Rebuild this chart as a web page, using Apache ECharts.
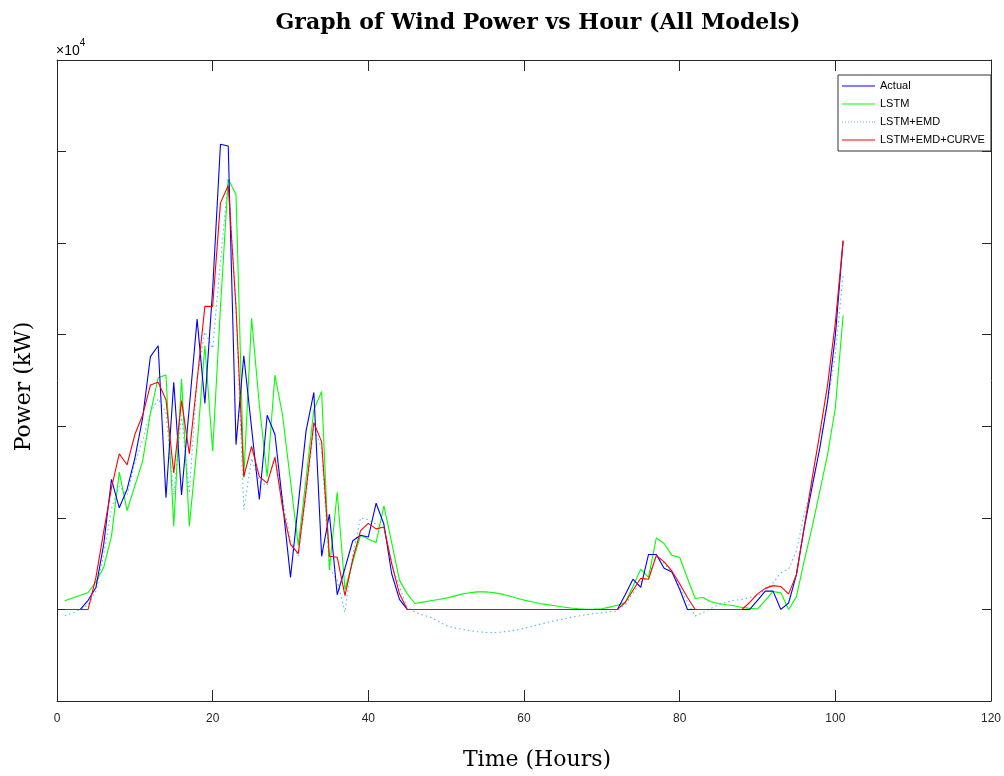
<!DOCTYPE html>
<html>
<head>
<meta charset="utf-8">
<script src="https://cdn.jsdelivr.net/npm/echarts@6/dist/echarts.min.js"></script>
<style>
html,body{margin:0;padding:0;background:#fff;}
#chart{width:1004px;height:776px;}
</style>
</head>
<body>
<div id="chart"></div>
<script>
var hours = [1,2,3,4,5,6,7,8,9,10,11,12,13,14,15,16,17,18,19,20,21,22,23,24,25,26,27,28,29,30,31,32,33,34,35,36,37,38,39,40,41,42,43,44,45,46,47,48,49,50,51,52,53,54,55,56,57,58,59,60,61,62,63,64,65,66,67,68,69,70,71,72,73,74,75,76,77,78,79,80,81,82,83,84,85,86,87,88,89,90,91,92,93,94,95,96,97,98,99,100,101];

var actual = [0,0,0,1000,2400,7100,14200,11100,13100,16500,20900,27600,28800,12200,24800,12500,22100,31700,22500,35000,50800,50600,18000,27700,19800,12000,21200,19100,11500,3500,11500,19500,23700,5800,10400,1600,4500,7500,8100,7900,11600,9300,3900,1100,0,0,0,0,0,0,0,0,0,0,0,0,0,0,0,0,0,0,0,0,0,0,0,0,0,0,0,0,1600,3300,2400,6000,6000,4500,4100,2200,0,0,0,0,0,0,0,0,0,1000,2000,2000,0,700,3800,8900,13300,17600,22700,29900,40200];

var lstm = [950,1250,1550,1850,3000,4600,8000,15000,10800,13500,16200,21400,25300,25600,9100,25200,9100,17900,28800,17300,33000,47000,45300,14400,31800,22300,14500,25600,21100,14000,7000,14300,21800,23800,4300,12800,2200,5200,8100,7700,7300,11300,7300,3200,1700,650,800,940,1080,1230,1450,1670,1820,1920,1920,1850,1700,1490,1250,1020,830,650,520,400,270,150,70,20,30,70,250,450,760,2500,4400,3500,7800,7200,5900,5700,3400,1200,1300,830,650,510,400,220,120,40,1000,1960,1810,0,1400,5300,8900,12900,16900,22000,32100];

var lstmEmd = [-700,-400,0,500,2000,6000,11000,13500,12500,16000,18500,21500,23000,21500,12500,21200,12700,25200,30300,28500,38000,47000,33000,10900,16500,14000,13500,16800,12000,7500,5800,12500,20000,17500,4500,3200,-300,6000,10000,9800,9300,9300,5000,2500,200,-300,-600,-870,-1300,-1770,-2000,-2170,-2300,-2430,-2500,-2540,-2480,-2390,-2250,-2070,-1850,-1630,-1430,-1230,-1050,-870,-720,-580,-460,-360,-250,-150,500,1800,3000,3500,5800,5000,4000,2500,800,-730,-330,100,500,800,1000,1100,1300,1500,2200,2900,4000,4400,6400,10400,13600,17600,22700,27800,36500];

var lstmEmdCurve = [0,0,0,0,3500,8500,13300,17000,15800,19100,21200,24500,24800,22900,14900,22800,17000,25000,33100,33100,44400,46300,33000,14500,17800,14500,13800,16600,11000,7100,6100,13000,20400,18300,5800,5700,1500,5500,8600,9400,8800,9000,5000,1700,0,0,0,0,0,0,0,0,0,0,0,0,0,0,0,0,0,0,0,0,0,0,0,0,0,0,0,0,760,2100,3400,3300,5900,5200,4200,2800,1300,0,0,0,0,0,0,0,760,1700,2300,2600,2500,1700,3800,9000,14200,19200,24500,31300,40300];

var xTicks = [0,20,40,60,80,100,120];
var seriesNames = ['Actual','LSTM','LSTM+EMD','LSTM+EMD+CURVE'];

function pairs(vals){
  var out = [];
  for (var i = 0; i < hours.length; i++) out.push([hours[i], vals[i]]);
  return out;
}

var solidIcon = 'path://M0,0h33v1h-33z';
var dotIcon = 'path://M0,0h1v1h-1zM3,0h1v1h-1zM6,0h1v1h-1zM9,0h1v1h-1zM12,0h1v1h-1zM15,0h1v1h-1zM18,0h1v1h-1zM21,0h1v1h-1zM24,0h1v1h-1zM27,0h1v1h-1zM30,0h1v1h-1zM32,0h1v1h-1z';

var axisColor = '#262626';
var chart = echarts.init(document.getElementById('chart'));
chart.setOption({
  animation: false,
  backgroundColor: '#fff',
  title: {
    text: 'Graph of Wind Power vs Hour (All Models)',
    left: 533, top: 7, textAlign: 'center',
    textStyle: {fontFamily: 'DejaVu Serif', fontWeight: 'bold', fontSize: 22, color: '#000'}
  },
  grid: {left: 57, right: 9, top: 60, bottom: 72, containLabel: false},
  legend: {
    orient: 'vertical', left: 838, top: 75,
    data: [
      {name: seriesNames[0], icon: solidIcon},
      {name: seriesNames[1], icon: solidIcon},
      {name: seriesNames[2], icon: dotIcon},
      {name: seriesNames[3], icon: solidIcon}
    ],
    backgroundColor: '#fff', borderColor: '#333', borderWidth: 1,
    padding: [4, 6, 4, 4], itemGap: 4, itemWidth: 33, itemHeight: 1.2,
    borderRadius: 0,
    textStyle: {fontFamily: 'Liberation Sans', fontSize: 11, color: '#000', lineHeight: 14, height: 14}
  },
  xAxis: [{
    type: 'value', min: 0, max: 120, interval: 20, position: 'bottom',
    name: 'Time (Hours)', nameLocation: 'middle', nameGap: 48,
    nameTextStyle: {fontFamily: 'DejaVu Serif', fontSize: 22, color: '#000', padding: [0,0,0,26]},
    axisLine: {show: true, onZero: false, lineStyle: {color: axisColor, width: 1}},
    axisTick: {show: true, inside: true, length: 11, lineStyle: {color: axisColor}},
    axisLabel: {show: true, margin: 12, color: axisColor, fontFamily: 'Liberation Sans', fontSize: 12,
      showMinLabel: true, showMaxLabel: true,
      formatter: function(v){ return xTicks.indexOf(v) >= 0 ? String(v) : ''; }},
    splitLine: {show: false}
  },{
    type: 'value', min: 0, max: 120, interval: 20, position: 'top',
    axisLine: {show: true, onZero: false, lineStyle: {color: axisColor, width: 1}},
    axisTick: {show: true, inside: true, length: 11, lineStyle: {color: axisColor}},
    axisLabel: {show: false}, splitLine: {show: false}
  }],
  yAxis: [{
    type: 'value', min: -10000, max: 60000, interval: 10000, position: 'left',
    name: 'Power (kW)', nameLocation: 'middle', nameGap: 22, nameRotate: 90,
    nameTextStyle: {fontFamily: 'DejaVu Serif', fontSize: 22, color: '#000', padding: [0,12,0,0]},
    axisLine: {show: true, onZero: false, lineStyle: {color: axisColor, width: 1}},
    axisTick: {show: true, inside: true, length: 9, lineStyle: {color: axisColor}},
    axisLabel: {show: false}, splitLine: {show: false}
  },{
    type: 'value', min: -10000, max: 60000, interval: 10000, position: 'right',
    axisLine: {show: true, onZero: false, lineStyle: {color: axisColor, width: 1}},
    axisTick: {show: true, inside: true, length: 9, lineStyle: {color: axisColor}},
    axisLabel: {show: false}, splitLine: {show: false}
  }],
  graphic: [{
    type: 'text', left: 56, top: 38,
    style: {
      text: '{a|×10}{b|4}',
      rich: {
        a: {fontFamily: 'Liberation Sans', fontSize: 14, color: '#444', verticalAlign: 'bottom', lineHeight: 20},
        b: {fontFamily: 'Liberation Sans', fontSize: 10, color: '#444', verticalAlign: 'top', lineHeight: 20}
      }
    }
  }],
  series: [
    {name: seriesNames[0], type: 'line', data: pairs(actual), symbol: 'none', z: 4,
     lineStyle: {color: '#0000ff', width: 1.1}, itemStyle: {color: '#0000ff'}},
    {name: seriesNames[1], type: 'line', data: pairs(lstm), symbol: 'none', z: 3,
     lineStyle: {color: '#00ff00', width: 1.1}, itemStyle: {color: '#00ff00'}},
    {name: seriesNames[2], type: 'line', data: pairs(lstmEmd), symbol: 'none', z: 2,
     lineStyle: {color: '#4DBEEE', width: 1.1, type: [1.5, 3]}, itemStyle: {color: '#4DBEEE'}},
    {name: seriesNames[3], type: 'line', data: pairs(lstmEmdCurve), symbol: 'none', z: 5,
     lineStyle: {color: '#ff0000', width: 1.1}, itemStyle: {color: '#ff0000'}}
  ]
});
</script>
</body>
</html>
